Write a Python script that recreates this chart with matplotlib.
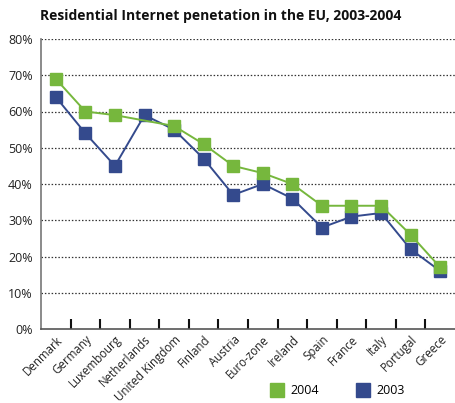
import numpy as np
import matplotlib
matplotlib.use("Agg")
import matplotlib.pyplot as plt
from matplotlib.lines import Line2D

countries = ["Denmark", "Germany", "Luxembourg", "Netherlands", "United Kingdom",
             "Finland", "Austria", "Euro-zone", "Ireland", "Spain", "France",
             "Italy", "Portugal", "Greece"]
y2004 = [69, 60, 59, np.nan, 56, 51, 45, 43, 40, 34, 34, 34, 26, 17]
y2003 = [64, 54, 45, 59, 55, 47, 37, 40, 36, 28, 31, 32, 22, 16]
yticks = [0, 10, 20, 30, 40, 50, 60, 70, 80]

green = "#76b73d"
blue = "#344a8d"

plt.rcParams['font.family'] = ['Open Sans', 'DejaVu Sans']

fig = plt.figure(figsize=(4.55, 4.03), dpi=100)
ax = fig.add_axes([41/455, 1-329/403, 1-41/455, (329-39)/403])

x = np.arange(len(countries))
a4 = np.array(y2004, dtype=float)
m4 = ~np.isnan(a4)

ax.plot(x, y2003, color=blue, lw=1.4, marker='s', ms=9, mec=blue, mfc=blue, zorder=3)
ax.plot(x[m4], a4[m4], color=green, lw=1.4, marker='s', ms=9, mec=green, mfc=green, zorder=4)

ax.set_xlim(-0.5, len(countries) - 0.5)
ax.set_ylim(0, 80)
ax.set_yticks(yticks)
ax.set_yticklabels([f"{v}%" for v in yticks], fontsize=9, color="#222222")
ax.tick_params(axis='y', length=0, pad=6)

ax.set_xticks(x)
ax.set_xticklabels(countries, rotation=45, ha='right', rotation_mode='anchor',
                   fontsize=8.3, color="#222222")
ax.tick_params(axis='x', which='major', length=0, pad=3)
ax.set_xticks(np.arange(0.5, len(countries) - 0.5, 1), minor=True)
ax.tick_params(axis='x', which='minor', direction='in', length=7, width=1.5, color="#111111")

for v in yticks[1:]:
    ax.axhline(v, color="#333333", lw=0.9, ls=(0, (1.2, 1.5)), zorder=1)

for s in ['top', 'right']:
    ax.spines[s].set_visible(False)
ax.spines['left'].set_color("#777777")
ax.spines['left'].set_linewidth(1.2)
ax.spines['bottom'].set_color("#555555")
ax.spines['bottom'].set_linewidth(1.2)

fig.text(40/455, 1-16/403, "Residential Internet penetation in the EU, 2003-2004",
         fontsize=10, fontweight='bold', ha='left', va='center', color="#111111")

handles = [Line2D([], [], ls='none', marker='s', ms=9.5, mfc=green, mec=green),
           Line2D([], [], ls='none', marker='s', ms=9.5, mfc=blue, mec=blue)]
fig.legend(handles, ["2004", "2003"], loc='center left',
           bbox_to_anchor=(258/455, 1-391/403), ncol=2, frameon=False,
           fontsize=9, handletextpad=0.5, columnspacing=2.9, handlelength=1.2)

fig.savefig("out.png", dpi=100)
